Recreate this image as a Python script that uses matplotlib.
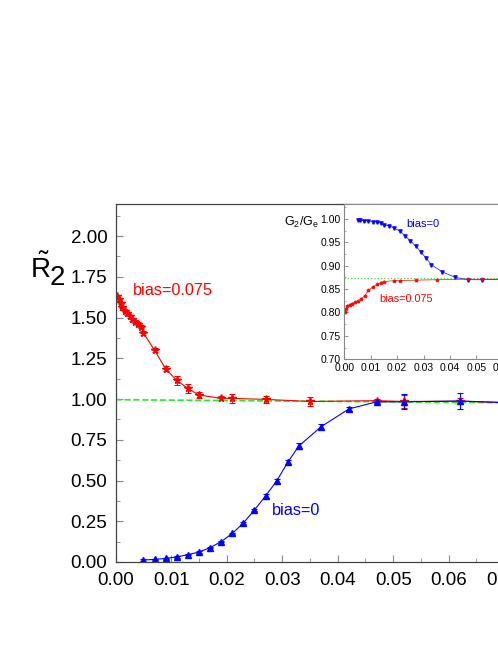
import matplotlib
matplotlib.use("Agg")
import matplotlib.pyplot as plt
import numpy as np
from matplotlib.ticker import MultipleLocator

plt.rcParams['font.family'] = ['Liberation Sans', 'DejaVu Sans']
plt.rcParams['mathtext.fontset'] = 'custom'
plt.rcParams['mathtext.rm'] = 'Liberation Sans'
plt.rcParams['mathtext.it'] = 'Liberation Sans:italic'

# main panel, bias=0.075 (red stars)
red_x = [0.0003, 0.0006, 0.0009, 0.0012, 0.0016, 0.002, 0.0025, 0.003, 0.0035, 0.004,
         0.0045, 0.005, 0.007, 0.009, 0.011, 0.013, 0.015, 0.019, 0.021, 0.027,
         0.035, 0.047, 0.052, 0.062, 0.072]
red_y = [1.633, 1.612, 1.590, 1.566, 1.540, 1.525, 1.508, 1.490, 1.475, 1.463,
         1.445, 1.405, 1.300, 1.185, 1.115, 1.065, 1.025, 1.004, 1.004, 0.998,
         0.985, 0.990, 0.985, 0.987, 0.976]
red_err = [0.008, 0.008, 0.008, 0.008, 0.008, 0.008, 0.01, 0.01, 0.01, 0.01,
           0.01, 0.012, 0.012, 0.015, 0.027, 0.029, 0.02, 0.012, 0.029, 0.021,
           0.029, 0.01, 0.04, 0.02, 0.02]

# main panel, bias=0 (blue triangles)
blue_x = [0.005, 0.007, 0.009, 0.011, 0.013, 0.015, 0.017, 0.019, 0.021, 0.023,
          0.025, 0.027, 0.029, 0.031, 0.033, 0.037, 0.042, 0.047, 0.052, 0.062, 0.072]
blue_y = [0.012, 0.016, 0.022, 0.031, 0.045, 0.061, 0.088, 0.125, 0.175, 0.239,
          0.319, 0.405, 0.497, 0.612, 0.712, 0.830, 0.939, 0.983, 0.983, 0.988, 0.976]
blue_err = [0.004, 0.004, 0.004, 0.004, 0.005, 0.005, 0.005, 0.005, 0.006, 0.006,
            0.008, 0.01, 0.01, 0.012, 0.016, 0.016, 0.013, 0.01, 0.045, 0.05, 0.02]

green_x = [0.0, 0.08]
green_y = [0.996, 0.975]

# inset G2/Ge
in_blue_x = [0.005, 0.006, 0.0075, 0.009, 0.011, 0.0125, 0.014, 0.015, 0.017, 0.019,
             0.021, 0.023, 0.025, 0.027, 0.029, 0.031, 0.033, 0.037, 0.042, 0.047,
             0.052, 0.062]
in_blue_y = [0.998, 0.997, 0.996, 0.996, 0.994, 0.993, 0.991, 0.987, 0.985, 0.980,
             0.974, 0.964, 0.953, 0.942, 0.929, 0.916, 0.902, 0.887, 0.875, 0.870,
             0.870, 0.871]
in_red_x = [0.0003, 0.0006, 0.0012, 0.002, 0.003, 0.004, 0.005, 0.0065, 0.0078, 0.009,
            0.011, 0.0125, 0.014, 0.015, 0.019, 0.021, 0.027, 0.035, 0.047, 0.052, 0.062]
in_red_y = [0.800, 0.808, 0.814, 0.817, 0.819, 0.822, 0.824, 0.829, 0.836, 0.847,
            0.855, 0.860, 0.864, 0.866, 0.868, 0.868, 0.869, 0.870, 0.871, 0.871, 0.871]
in_green = 0.874

fig = plt.figure(figsize=(4.98, 6.45), dpi=100)
W, H = 498.0, 645.0

ax = fig.add_axes([115.7 / W, 83 / H, 444 / W, 358.5 / H])
ax.errorbar(red_x, red_y, yerr=red_err, fmt='-*', color='#ff0000', ms=5.5, lw=0.8,
            elinewidth=0.8, capsize=2, capthick=0.8)
ax.errorbar(blue_x, blue_y, yerr=blue_err, fmt='-^', color='#0000ff', ms=4.5, lw=0.8,
            elinewidth=0.8, capsize=2, capthick=0.8)
ax.plot(green_x, green_y, '--', color='#22ee22', lw=1.2)
ax.set_xlim(0, 0.08)
ax.set_ylim(0, 2.2)
ax.xaxis.set_major_locator(MultipleLocator(0.01))
ax.xaxis.set_minor_locator(MultipleLocator(0.005))
ax.yaxis.set_major_locator(MultipleLocator(0.25))
ax.yaxis.set_minor_locator(MultipleLocator(0.125))
ax.xaxis.set_major_formatter(plt.FormatStrFormatter('%.2f'))
ax.yaxis.set_major_formatter(plt.FormatStrFormatter('%.2f'))
ax.tick_params(which='both', direction='in', color='#888888', labelsize=13.5)
ax.tick_params(which='major', length=5)
ax.tick_params(which='minor', length=3)
ax.tick_params(axis='y', pad=6)
ax.tick_params(axis='x', pad=7)
for s in ax.spines.values():
    s.set_color('#444444')
    s.set_linewidth(0.9)
ax.text(0.0031, 1.664, 'bias=0.075', color='#ff0000', fontsize=11.7, va='center')
ax.text(0.0282, 0.313, 'bias=0', color='#0000ff', fontsize=11.7, va='center')

fig.text(30 / W, 1 - 278 / H, r'$\tilde{\mathrm{R}}$', fontsize=20, va='baseline')
fig.text(50 / W, 1 - 285 / H, '2', fontsize=20, va='baseline')

ins = fig.add_axes([344.3 / W, (H - 359.3) / H, 184.8 / W, 155 / H])
ins.errorbar(in_blue_x, in_blue_y, yerr=0.002, fmt='-v', color='#0000ff', ms=2.5,
             lw=0.6, elinewidth=0.5, capsize=1, alpha=0.8)
ins.errorbar(in_red_x, in_red_y, yerr=0.001, fmt='-*', color='#ff0000', ms=2.5,
             lw=0.6, elinewidth=0.5, capsize=1, alpha=0.8)
ins.axhline(in_green, ls=':', color='#44dd44', lw=0.9)
ins.set_xlim(0, 0.07)
ins.set_ylim(0.70, 1.031)
ins.xaxis.set_major_locator(MultipleLocator(0.01))
ins.yaxis.set_major_locator(MultipleLocator(0.05))
ins.yaxis.set_minor_locator(MultipleLocator(0.025))
ins.xaxis.set_major_formatter(plt.FormatStrFormatter('%.2f'))
ins.yaxis.set_major_formatter(plt.FormatStrFormatter('%.2f'))
ins.tick_params(which='both', direction='in', color='#999999', labelsize=7.5, pad=2.5)
ins.tick_params(which='major', length=3)
ins.tick_params(which='minor', length=1.5)
for s in ins.spines.values():
    s.set_color('#888888')
    s.set_linewidth(0.8)
ins.text(0.0234, 0.989, 'bias=0', color='#0000ff', fontsize=8, va='center')
ins.text(0.0131, 0.829, 'bias=0.075', color='#ff0000', fontsize=7.8, va='center')
fig.text(319 / W, 1 - 226 / H, r'$\mathrm{G_2/G_e}$', fontsize=9, ha='right', va='baseline')

fig.savefig('out.png', dpi=100)
